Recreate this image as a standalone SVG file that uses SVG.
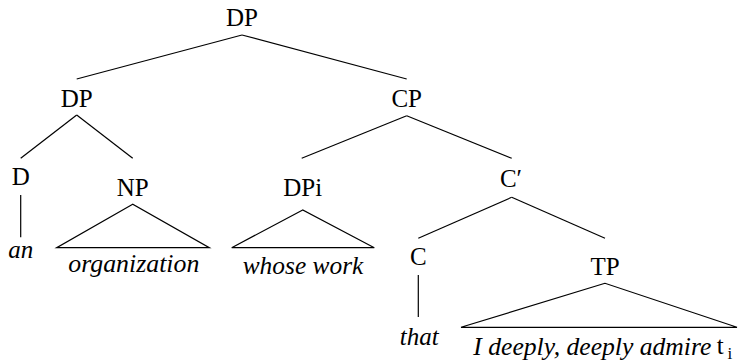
<svg xmlns="http://www.w3.org/2000/svg" width="738" height="364" viewBox="0 0 738 364">
<style>
text{font-family:'Liberation Serif','Times New Roman',serif;font-size:25px;fill:#000}
.mid{text-anchor:middle}
.it{font-style:italic}
.ln{stroke:#000;stroke-width:1.2;fill:none}
</style>
<rect width="738" height="364" fill="#fff"/>
<g id="connectors">
<line class="ln" x1="242" y1="35" x2="76.7" y2="79"/>
<line class="ln" x1="242" y1="35" x2="406.7" y2="79"/>
<line class="ln" x1="76.7" y1="115" x2="20.7" y2="158.3"/>
<line class="ln" x1="76.7" y1="115" x2="132.7" y2="158.3"/>
<line class="ln" x1="406.7" y1="115.7" x2="301.7" y2="158.3"/>
<line class="ln" x1="406.7" y1="115.7" x2="511.7" y2="158.3"/>
<line class="ln" x1="20.7" y1="195" x2="20.7" y2="237.3"/>
<polygon class="ln" points="132.7,204.3 56.7,247.7 209.3,247.7"/>
<polygon class="ln" points="302.7,210 231.7,247.7 374.3,247.7"/>
<line class="ln" x1="511.7" y1="197.3" x2="418.3" y2="238.3"/>
<line class="ln" x1="511.7" y1="197.3" x2="605" y2="238.3"/>
<line class="ln" x1="418.3" y1="275" x2="418.3" y2="317"/>
<polygon class="ln" points="605,283.3 461,327.3 737,327.3"/>
</g>
<g id="n-dp-root"><text class="mid" x="242" y="26">DP</text></g>
<g id="n-dp"><text class="mid" x="76.7" y="106.7">DP</text></g>
<g id="n-cp"><text class="mid" x="406.7" y="106.7">CP</text></g>
<g id="n-d"><text class="mid" x="20.7" y="185">D</text></g>
<g id="n-np"><text class="mid" x="132.7" y="196">NP</text></g>
<g id="n-dpi"><text class="mid" x="302.7" y="196">DPi</text></g>
<g id="n-cbar"><text class="mid" x="511" y="187">C′</text></g>
<g id="n-c"><text class="mid" x="418.3" y="265">C</text></g>
<g id="n-tp"><text class="mid" x="605" y="275">TP</text></g>
<g id="w-an"><text class="it mid" x="20.8" y="258">an</text></g>
<g id="w-organization"><text class="it" x="68.3" y="272" textLength="131" lengthAdjust="spacingAndGlyphs">organization</text></g>
<g id="w-whosework"><text class="it" x="242.7" y="274" textLength="120.6" lengthAdjust="spacingAndGlyphs">whose work</text></g>
<g id="w-that"><text class="it mid" x="419.2" y="345">that</text></g>
<g id="w-tp"><text class="it" x="473.3" y="355" textLength="238" lengthAdjust="spacingAndGlyphs">I deeply, deeply admire</text><text x="716.7" y="353.5">t</text><text x="727.5" y="359" style="font-size:17px">i</text></g>
</svg>
